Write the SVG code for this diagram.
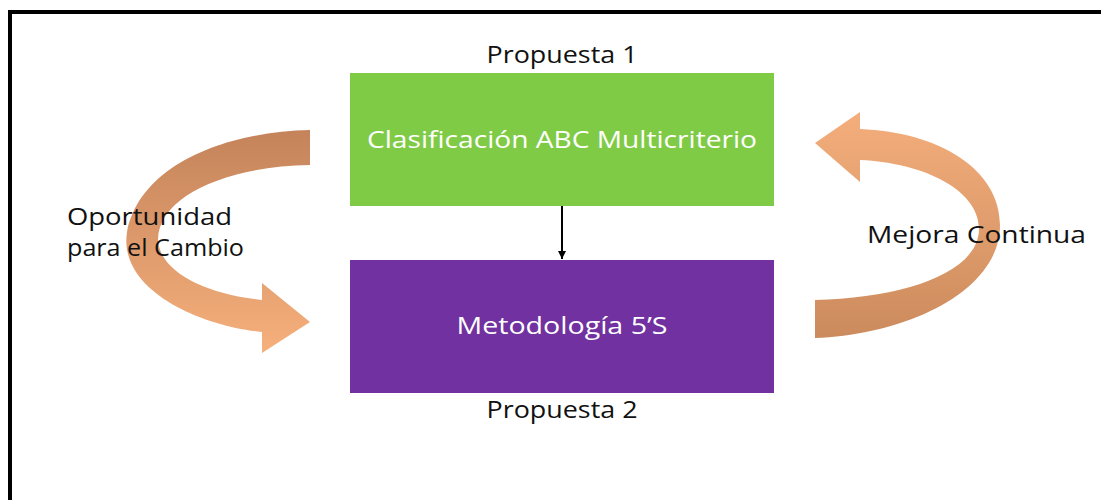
<svg xmlns="http://www.w3.org/2000/svg" width="1101" height="500" viewBox="0 0 1101 500">
<defs>
<style>
.lbl{font-family:"Open Sans","Liberation Sans",sans-serif;font-size:23px;fill:#111}
.wht{font-family:"Open Sans","Liberation Sans",sans-serif;font-size:23px;fill:#fff}
</style>
<linearGradient id="gl" x1="0" y1="0" x2="0" y2="1">
<stop offset="0" stop-color="#C4835A"/>
<stop offset="1" stop-color="#F6B07C"/>
</linearGradient>
<linearGradient id="gr" x1="0" y1="0" x2="0" y2="1">
<stop offset="0" stop-color="#F4AE7C"/>
<stop offset="1" stop-color="#CC8B5D"/>
</linearGradient>
<marker id="ah" markerWidth="10" markerHeight="10" refX="8" refY="5" orient="auto" markerUnits="userSpaceOnUse">
<path d="M0,1 L8,5 L0,9 Z" fill="#000"/>
</marker>
</defs>
<rect width="1101" height="500" fill="#fff"/>
<path d="M10,500 V12 H1101" fill="none" stroke="#000" stroke-width="4"/>

<g id="connectors">
<path id="arrow-left" d="M310,130 C225,132 140,165 127,232 C118,290 200,326 262,332 L262,353 L310,322 L262,283 L262,300 C205,294 160,272 158,240 C158,195 230,166 310,165 Z" fill="url(#gl)"/>
<path id="arrow-right" d="M815,338 C905,335 1000,292 1000,225 C1000,170 940,132 860,129 L860,112 L815,143 L860,182 L860,160 C925,163 978,190 979,228 C980,272 905,298 815,300 Z" fill="url(#gr)"/>
<line x1="562" y1="206" x2="562" y2="259" stroke="#000" stroke-width="2" marker-end="url(#ah)"/>
</g>

<g id="node-propuesta1">
<rect x="350" y="73" width="424" height="133" fill="#80CB46"/>
<text class="wht" x="562" y="148" text-anchor="middle" textLength="390" lengthAdjust="spacingAndGlyphs">Clasificación ABC Multicriterio</text>
</g>
<g id="node-propuesta2">
<rect x="350" y="260" width="424" height="133" fill="#7131A0"/>
<text class="wht" x="562" y="334" text-anchor="middle" textLength="211" lengthAdjust="spacingAndGlyphs">Metodología 5’S</text>
</g>

<g id="labels">
<text class="lbl" x="562" y="63" text-anchor="middle" textLength="151" lengthAdjust="spacingAndGlyphs">Propuesta 1</text>
<text class="lbl" x="562" y="418" text-anchor="middle" textLength="151" lengthAdjust="spacingAndGlyphs">Propuesta 2</text>
<text class="lbl" x="67" y="225" textLength="165" lengthAdjust="spacingAndGlyphs">Oportunidad</text>
<text class="lbl" x="67" y="256" textLength="177" lengthAdjust="spacingAndGlyphs">para el Cambio</text>
<text class="lbl" x="867" y="243" textLength="219" lengthAdjust="spacingAndGlyphs">Mejora Continua</text>
</g>
</svg>
